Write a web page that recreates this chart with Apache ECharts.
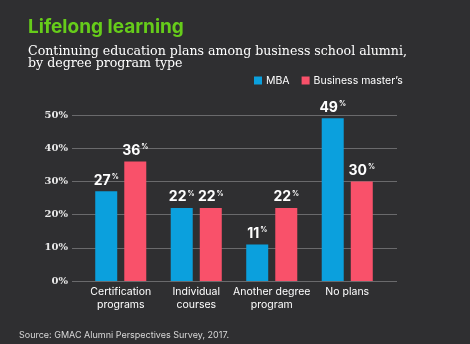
<!DOCTYPE html>
<html><head><meta charset="utf-8">
<script src="https://cdn.jsdelivr.net/npm/echarts@6/dist/echarts.min.js"></script>
<style>html,body{margin:0;padding:0;background:#2f2f31;}#c{width:470px;height:344px;}</style>
</head><body><div id="c"></div>
<script>
const categories = ["Certification\nprograms", "Individual\ncourses", "Another degree\nprogram", "No plans"];
const seriesNames = ["MBA", "Business master\u2019s"];
const mbaValues = [27, 22, 11, 49];
const bmValues = [36, 22, 22, 30];
const yTicks = [0, 10, 20, 30, 40, 50];
const colors = ["#0ba0dd", "#f9516a"];

const chart = echarts.init(document.getElementById('c'), null, {renderer: 'canvas'});
const gridTop = 115, gridBottom = 344 - 281;
const valLabel = {
  show: true, position: 'top', distance: 4,
  formatter: p => '{a|' + p.value + '}{b|%}',
  rich: {
    a: {color: '#ffffff', fontFamily: 'Inter, Roboto, sans-serif', fontWeight: 'bold', fontSize: 14},
    b: {color: '#ffffff', fontFamily: 'Inter, Roboto, sans-serif', fontWeight: 'bold', fontSize: 7, verticalAlign: 'top', padding: [0,0,6,1]}
  }
};
chart.setOption({
  backgroundColor: '#2f2f31',
  animation: false,
  title: [
    {text: 'Lifelong learning', left: 28, top: 18, padding: 0,
     textStyle: {color: '#66cc1a', fontFamily: 'Inter, Roboto, sans-serif', fontWeight: 'bold', fontSize: 19}},
    {text: 'Continuing education plans among business school alumni,\nby degree program type', left: 28, top: 46, padding: 0,
     textStyle: {color: '#ffffff', fontFamily: 'DejaVu Serif, serif', fontWeight: 'normal', fontSize: 12.6, lineHeight: 12}},
    {text: 'Source: GMAC Alumni Perspectives Survey, 2017.', left: 19, top: 331, padding: 0,
     textStyle: {color: '#d8d8d8', fontFamily: 'Inter, Roboto, sans-serif', fontWeight: 'normal', fontSize: 9}}
  ],
  legend: {
    data: seriesNames, left: 254, top: 75, padding: 0, itemWidth: 8, itemHeight: 8, itemGap: 12,
    icon: 'rect',
    textStyle: {color: '#ffffff', fontFamily: 'Inter, Roboto, sans-serif', fontSize: 10.5, padding: [0,0,0,-1]}
  },
  grid: [
    {left: 72, right: 73, top: gridTop, bottom: gridBottom},
    {left: 83, right: 85, top: gridTop, bottom: gridBottom}
  ],
  xAxis: [
    {gridIndex: 0, type: 'category', data: categories, show: false},
    {gridIndex: 1, type: 'category', data: categories,
     axisLine: {show: false}, axisTick: {show: false},
     axisLabel: {color: '#ffffff', fontFamily: 'Inter, Roboto, sans-serif', fontSize: 10.5, lineHeight: 13, margin: 4, interval: 0}}
  ],
  yAxis: [
    {gridIndex: 0, type: 'value', min: 0, max: 50, interval: 10,
     axisLine: {show: false}, axisTick: {show: false},
     splitLine: {lineStyle: {color: '#6a6a6c', width: 1}},
     axisLabel: {color: '#e8e8e8', fontFamily: 'DejaVu Serif, serif', fontWeight: 'bold', fontSize: 10, margin: 4,
       formatter: v => yTicks.includes(v) ? v + '%' : ''}},
    {gridIndex: 1, type: 'value', min: 0, max: 50, interval: 10, show: false, splitLine: {show: false}}
  ],
  series: [
    {name: seriesNames[0], type: 'bar', xAxisIndex: 1, yAxisIndex: 1, data: mbaValues,
     barWidth: 22, barGap: '32%', itemStyle: {color: colors[0]}, label: valLabel},
    {name: seriesNames[1], type: 'bar', xAxisIndex: 1, yAxisIndex: 1, data: bmValues,
     barWidth: 22, barGap: '32%', itemStyle: {color: colors[1]}, label: valLabel}
  ]
});
</script></body></html>
